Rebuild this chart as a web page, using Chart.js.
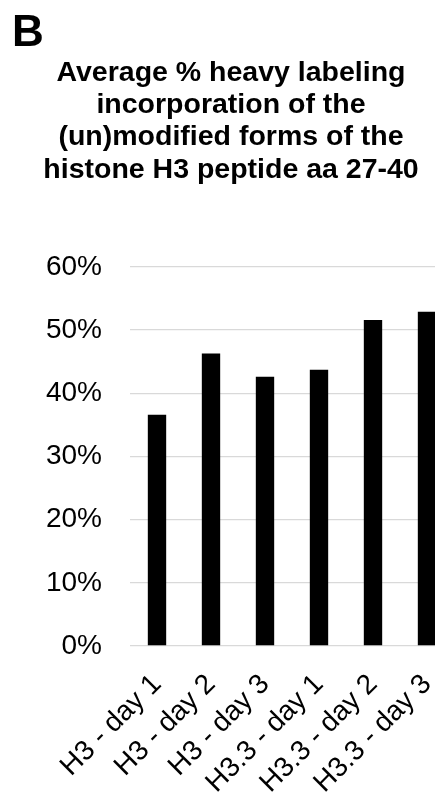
<!DOCTYPE html>
<html>
<head>
<meta charset="utf-8">
<script src="https://cdn.jsdelivr.net/npm/chart.js@4"></script>
<style>
  html, body { margin: 0; padding: 0; overflow: hidden; background: #fff; }
  #wrap { position: relative; width: 435px; height: 796px; overflow: hidden; }
  #panel { position: absolute; left: 12px; top: 6px; font: bold 44px "Liberation Sans", Arial, sans-serif; color: #000; }
  canvas { position: absolute; left: 0; top: 0; }
</style>
</head>
<body>
<div id="wrap">
  <canvas id="chart" width="460" height="796"></canvas>
  <div id="panel">B</div>
</div>
<script>
// chart data
const categories = ['H3 - day 1', 'H3 - day 2', 'H3 - day 3', 'H3.3 - day 1', 'H3.3 - day 2', 'H3.3 - day 3'];
const heavyLabeling = [36.6, 46.3, 42.6, 43.7, 51.6, 52.9];
const titleLines = ['Average % heavy labeling', 'incorporation of the', '(un)modified forms of the', 'histone H3 peptide aa 27-40'];

const font = '"Liberation Sans", Arial, sans-serif';

function main() {
    const canvas = document.querySelector('#chart');

    new Chart(canvas.getContext('2d'), {
        type: 'bar',
        data: {
            labels: categories,
            datasets: [{
                label: 'Heavy labeling',
                data: heavyLabeling,
                backgroundColor: '#000000',
                borderWidth: 0,
                categoryPercentage: 1,
                barPercentage: 0.34
            }]
        },
        options: {
            responsive: false,
            animation: false,
            devicePixelRatio: 1,
            layout: { padding: { left: 8, right: 6, top: 0, bottom: 0 } },
            plugins: {
                legend: { display: false },
                tooltip: { enabled: false },
                title: {
                    display: true,
                    text: titleLines,
                    color: '#000',
                    font: { family: font, size: 28.5, weight: 'bold', lineHeight: 1.13 },
                    padding: { top: 57, bottom: 81 }
                }
            },
            scales: {
                x: {
                    grid: { display: false, drawTicks: false },
                    border: { display: false },
                    ticks: {
                        color: '#000',
                        font: { family: font, size: 28 },
                        minRotation: 45,
                        maxRotation: 45,
                        padding: 22,
                        autoSkip: false
                    },
                    afterFit: scale => {
                        scale.paddingLeft = 0;
                        scale.paddingRight = 0;
                        scale.height = 150;
                    }
                },
                y: {
                    min: 0,
                    max: 60,
                    grid: { color: '#d9d9d9', lineWidth: 1.3, drawTicks: false },
                    border: { display: false },
                    ticks: {
                        stepSize: 10,
                        color: '#000',
                        font: { family: font, size: 28 },
                        padding: 28,
                        callback: v => v + '%'
                    },
                    afterFit: scale => {
                        scale.width = 122;
                    }
                }
            }
        }
    });
}

main();
</script>
</body>
</html>
